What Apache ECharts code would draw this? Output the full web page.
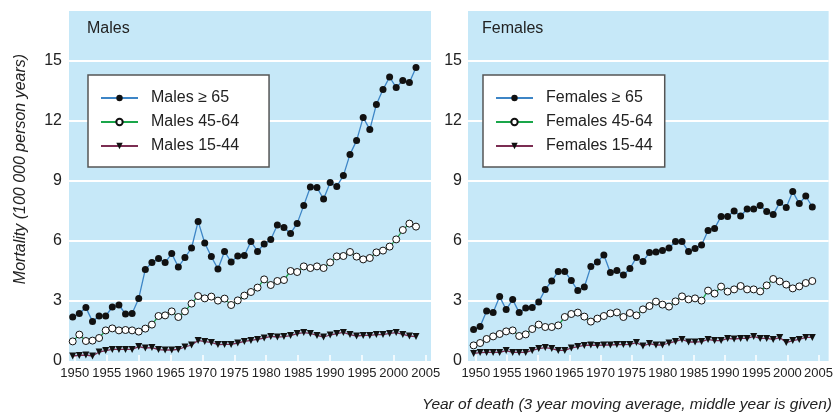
<!DOCTYPE html>
<html>
<head>
<meta charset="utf-8">
<script src="https://cdn.jsdelivr.net/npm/echarts@6/dist/echarts.min.js"></script>
<style>
  html, body { margin: 0; padding: 0; background: #fff; }
  #main { width: 836px; height: 416px; }
</style>
</head>
<body>
<div id="main"></div>
<script>
// middle year of each 3 year moving average
var years = [];
for (var y = 1951; y <= 2003; y++) years.push(y);

var yearTicks = [1950, 1955, 1960, 1965, 1970, 1975, 1980, 1985, 1990, 1995, 2000, 2005];

var males65 = [2.2, 2.38, 2.67, 1.98, 2.25, 2.25, 2.7, 2.8, 2.35, 2.37,
  3.13, 4.58, 4.92, 5.12, 4.92, 5.37, 4.7, 5.17, 5.65, 6.98,
  5.9, 5.22, 4.6, 5.48, 4.95, 5.25, 5.27, 5.98, 5.48, 5.85,
  6.07, 6.8, 6.67, 6.38, 6.88, 7.78, 8.7, 8.67, 8.1, 8.92,
  8.73, 9.27, 10.33, 11.02, 12.18, 11.57, 12.83, 13.57, 14.2, 13.67,
  14.03, 13.93, 14.68];
var males4564 = [0.98, 1.32, 1.0, 1.02, 1.15, 1.53, 1.63, 1.53, 1.55, 1.53,
  1.47, 1.62, 1.82, 2.25, 2.28, 2.48, 2.2, 2.48, 2.87, 3.25,
  3.13, 3.22, 3.02, 3.12, 2.8, 3.03, 3.27, 3.45, 3.67, 4.08,
  3.8, 4.0, 4.05, 4.5, 4.45, 4.73, 4.65, 4.73, 4.65, 4.93,
  5.23, 5.25, 5.45, 5.22, 5.08, 5.15, 5.43, 5.52, 5.72, 6.08,
  6.55, 6.87, 6.72];
var males1544 = [0.25, 0.28, 0.3, 0.25, 0.45, 0.52, 0.58, 0.58, 0.58, 0.58,
  0.72, 0.65, 0.67, 0.57, 0.55, 0.55, 0.58, 0.7, 0.8, 1.03,
  0.97, 0.93, 0.82, 0.83, 0.83, 0.9, 0.98, 1.03, 1.08, 1.15,
  1.23, 1.2, 1.22, 1.27, 1.37, 1.42, 1.38, 1.28, 1.2, 1.3,
  1.37, 1.43, 1.32, 1.25, 1.28, 1.28, 1.32, 1.32, 1.38, 1.42,
  1.33, 1.25, 1.22];

var females65 = [1.57, 1.73, 2.5, 2.42, 3.22, 2.57, 3.07, 2.42, 2.65, 2.68,
  2.95, 3.58, 4.0, 4.48, 4.48, 4.02, 3.52, 3.7, 4.72, 4.95,
  5.3, 4.42, 4.53, 4.3, 4.62, 5.18, 4.98, 5.42, 5.45, 5.52,
  5.65, 5.97, 5.97, 5.47, 5.63, 5.8, 6.53, 6.63, 7.23, 7.23,
  7.5, 7.25, 7.6, 7.6, 7.78, 7.47, 7.32, 7.92, 7.68, 8.47,
  7.87, 8.25, 7.7];
var females4564 = [0.78, 0.9, 1.1, 1.23, 1.35, 1.48, 1.53, 1.25, 1.33, 1.6,
  1.82, 1.7, 1.7, 1.78, 2.2, 2.35, 2.42, 2.22, 1.97, 2.12,
  2.25, 2.38, 2.43, 2.2, 2.4, 2.28, 2.58, 2.75, 2.97, 2.82,
  2.72, 2.98, 3.23, 3.08, 3.13, 3.02, 3.52, 3.37, 3.72, 3.47,
  3.58, 3.75, 3.58, 3.58, 3.48, 3.78, 4.1, 3.98, 3.82, 3.63,
  3.73, 3.9, 4.0];
var females1544 = [0.38, 0.42, 0.43, 0.43, 0.43, 0.52, 0.43, 0.43, 0.43, 0.53,
  0.62, 0.67, 0.62, 0.53, 0.53, 0.65, 0.72, 0.78, 0.8, 0.78,
  0.8, 0.8, 0.82, 0.82, 0.83, 0.92, 0.75, 0.87, 0.8, 0.8,
  0.9, 0.98, 1.08, 0.95, 0.95, 0.97, 1.08, 1.02, 1.02, 1.13,
  1.1, 1.13, 1.13, 1.23, 1.13, 1.13, 1.08, 1.17, 0.92, 1.02,
  1.08, 1.18, 1.18];

var FONT = "'Liberation Sans', Arial, sans-serif";
var BG = '#c6e8f8';
var BLUE = '#3d85c6', GREEN = '#1aa64a', MAROON = '#7b2d52';

function pairs(vals) {
  return vals.map(function (v, i) { return [years[i], v]; });
}

function makeSeries(name, vals, axis, kind) {
  var s = {
    name: name,
    type: 'line',
    xAxisIndex: axis,
    yAxisIndex: axis - 2,
    data: pairs(vals),
    symbolSize: 7,
    lineStyle: { width: 1.3 },
    z: 3
  };
  if (kind === 'old') {
    s.symbol = 'circle';
    s.itemStyle = { color: '#111' };
    s.lineStyle.color = BLUE;
  } else if (kind === 'mid') {
    s.symbol = 'circle';
    s.itemStyle = { color: '#fff', borderColor: '#111', borderWidth: 1 };
    s.lineStyle.color = GREEN;
  } else {
    s.symbol = 'triangle';
    s.symbolRotate = 180;
    s.itemStyle = { color: '#111' };
    s.lineStyle.color = MAROON;
  }
  return s;
}

function yearAxis(grid, min, max) {
  return {
    type: 'value', gridIndex: grid, min: min, max: max,
    axisLine: { show: false },
    splitLine: { show: false },
    axisTick: { show: true, inside: true, length: 6, customValues: yearTicks,
      lineStyle: { color: '#fff', width: 1.5 } },
    axisLabel: { customValues: yearTicks, margin: 6, color: '#222',
      fontFamily: FONT, fontSize: 13, showMinLabel: true, showMaxLabel: true,
      hideOverlap: false,
      formatter: function (v) { return String(v); } }
  };
}

function dataAxis(grid, min, max) {
  return { type: 'value', gridIndex: grid, min: min, max: max, show: false };
}

function valueAxis(grid, margin) {
  return {
    type: 'value', gridIndex: grid, min: 0, max: 17.5, interval: 3,
    axisLine: { show: false },
    axisTick: { show: false },
    splitLine: { show: true, showMinLine: false, showMaxLine: false,
      lineStyle: { color: '#fff', width: 2 } },
    axisLabel: {
      margin: margin, color: '#222', fontFamily: FONT, fontSize: 16,
      formatter: function (v) { return v > 15 ? '' : String(v); }
    }
  };
}

function legendBox(left, names, padRight) {
  return {
    orient: 'vertical', left: left, top: 75,
    data: names,
    backgroundColor: '#fff', borderColor: '#555', borderWidth: 1.5,
    padding: [15, padRight, 13, 12],
    itemWidth: 37, itemHeight: 8, itemGap: 8,
    textStyle: { fontFamily: FONT, fontSize: 16, lineHeight: 16, color: '#222', padding: [0, 0, 0, 8] },
    selectedMode: false
  };
}

var chart = echarts.init(document.getElementById('main'));
chart.setOption({
  animation: false,
  backgroundColor: '#fff',
  textStyle: { fontFamily: FONT },
  title: [
    { text: 'Males', left: 87, top: 21, padding: 0,
      textStyle: { fontFamily: FONT, fontSize: 16, fontWeight: 'normal', color: '#222' } },
    { text: 'Females', left: 482, top: 21, padding: 0,
      textStyle: { fontFamily: FONT, fontSize: 16, fontWeight: 'normal', color: '#222' } }
  ],
  grid: [
    { left: 69, top: 11, width: 362, height: 350, show: true, backgroundColor: BG, borderWidth: 0 },
    { left: 468, top: 11, width: 368, height: 350, show: true, backgroundColor: BG, borderWidth: 0 }
  ],
  xAxis: [
    yearAxis(0, 1949.09, 2005.83),
    yearAxis(1, 1948.74, 2006.62),
    dataAxis(0, 1950.44, 2005.27),
    dataAxis(1, 1950.14, 2005.51)
  ],
  yAxis: [valueAxis(0, 7), valueAxis(1, 6)],
  legend: [
    legendBox(88, ['Males \u2265 65', 'Males 45-64', 'Males 15-44'], 30),
    legendBox(483, ['Females \u2265 65', 'Females 45-64', 'Females 15-44'], 12)
  ],
  graphic: [
    { type: 'text', x: 21, y: 169, rotation: Math.PI / 2,
      style: { text: 'Mortality (100 000 person years)', fontFamily: FONT, fontSize: 16,
        fontStyle: 'italic', fill: '#222', align: 'center', verticalAlign: 'middle' } },
    { type: 'text', x: 832, y: 405,
      style: { text: 'Year of death (3 year moving average, middle year is given)', fontFamily: FONT,
        fontSize: 15.5, fontStyle: 'italic', fill: '#222', align: 'right', verticalAlign: 'middle' } }
  ],
  series: [
    makeSeries('Males \u2265 65', males65, 2, 'old'),
    makeSeries('Males 45-64', males4564, 2, 'mid'),
    makeSeries('Males 15-44', males1544, 2, 'young'),
    makeSeries('Females \u2265 65', females65, 3, 'old'),
    makeSeries('Females 45-64', females4564, 3, 'mid'),
    makeSeries('Females 15-44', females1544, 3, 'young')
  ]
});
</script>
</body>
</html>
